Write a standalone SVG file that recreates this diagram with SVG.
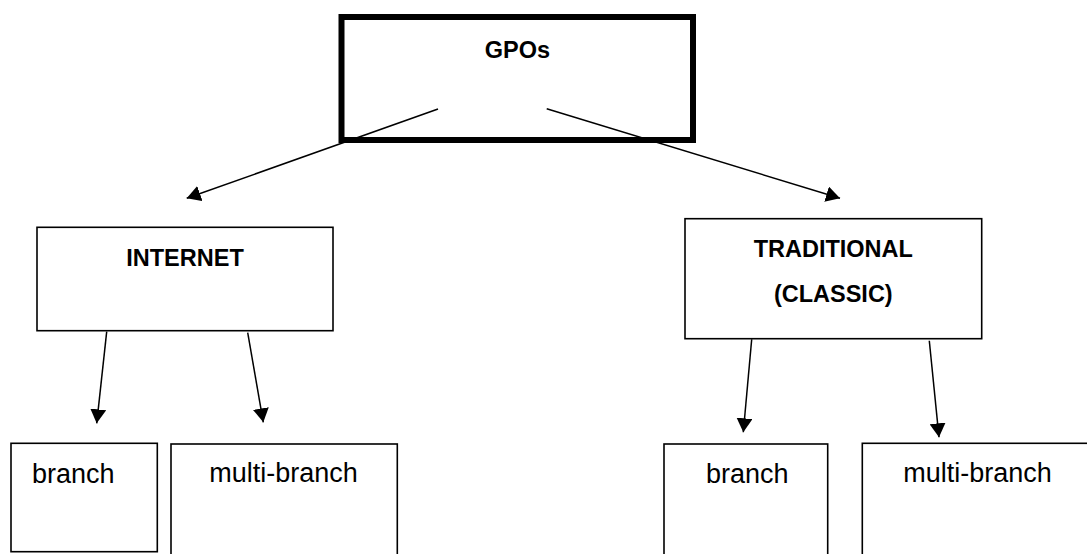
<svg xmlns="http://www.w3.org/2000/svg" width="1087" height="554" viewBox="0 0 1087 554">
  <style>
    .box { fill: #fff; stroke: #000; stroke-width: 1.6; }
    .root { fill: #fff; stroke: #000; stroke-width: 6; }
    .title { font-family: "Liberation Sans", Arial, sans-serif; font-weight: bold; font-size: 23.5px; fill: #000; text-anchor: middle; }
    .label { font-family: "Liberation Sans", Arial, sans-serif; font-size: 27px; fill: #000; }
    .link { stroke: #000; stroke-width: 1.5; fill: none; marker-end: url(#arrow); }
  </style>
  <defs>
    <marker id="arrow" markerUnits="userSpaceOnUse" viewBox="0 0 14 16" markerWidth="14" markerHeight="16" refX="14" refY="8" orient="auto">
      <path d="M0,0 L14,8 L0,16 z" fill="#000"/>
    </marker>
  </defs>
  <rect width="1087" height="554" fill="#fff"/>

  <g id="gpos">
    <rect class="root" x="341.5" y="17" width="351.5" height="123"/>
    <text class="title" x="517.5" y="58">GPOs</text>
  </g>

  <g id="internet">
    <rect class="box" x="37" y="227.3" width="296" height="103.4"/>
    <text class="title" x="185" y="266">INTERNET</text>
  </g>

  <g id="traditional">
    <rect class="box" x="685" y="218.7" width="296.7" height="120"/>
    <text class="title" x="833.3" y="257.3">TRADITIONAL</text>
    <text class="title" x="833.3" y="301.7">(CLASSIC)</text>
  </g>

  <g id="internet-branch">
    <rect class="box" x="11" y="443.3" width="146.3" height="108.4"/>
    <text class="label" x="32" y="482.7">branch</text>
  </g>

  <g id="internet-multi-branch">
    <rect class="box" x="171" y="444" width="226.3" height="120"/>
    <text class="label" x="209.3" y="482">multi-branch</text>
  </g>

  <g id="traditional-branch">
    <rect class="box" x="664" y="444" width="163.7" height="120"/>
    <text class="label" x="706" y="482.7">branch</text>
  </g>

  <g id="traditional-multi-branch">
    <rect class="box" x="862.3" y="443.3" width="240" height="120"/>
    <text class="label" x="903.3" y="482">multi-branch</text>
  </g>

  <g id="connectors">
    <line class="link" x1="438" y1="109" x2="186.7" y2="198.3"/>
    <line class="link" x1="546.7" y1="108.7" x2="840" y2="198.3"/>
    <line class="link" x1="106.7" y1="331.7" x2="96.7" y2="423.3"/>
    <line class="link" x1="247.7" y1="332.7" x2="263.3" y2="422.3"/>
    <line class="link" x1="751.7" y1="339.3" x2="743.3" y2="432.3"/>
    <line class="link" x1="929.3" y1="340.7" x2="939" y2="437.3"/>
  </g>
</svg>
